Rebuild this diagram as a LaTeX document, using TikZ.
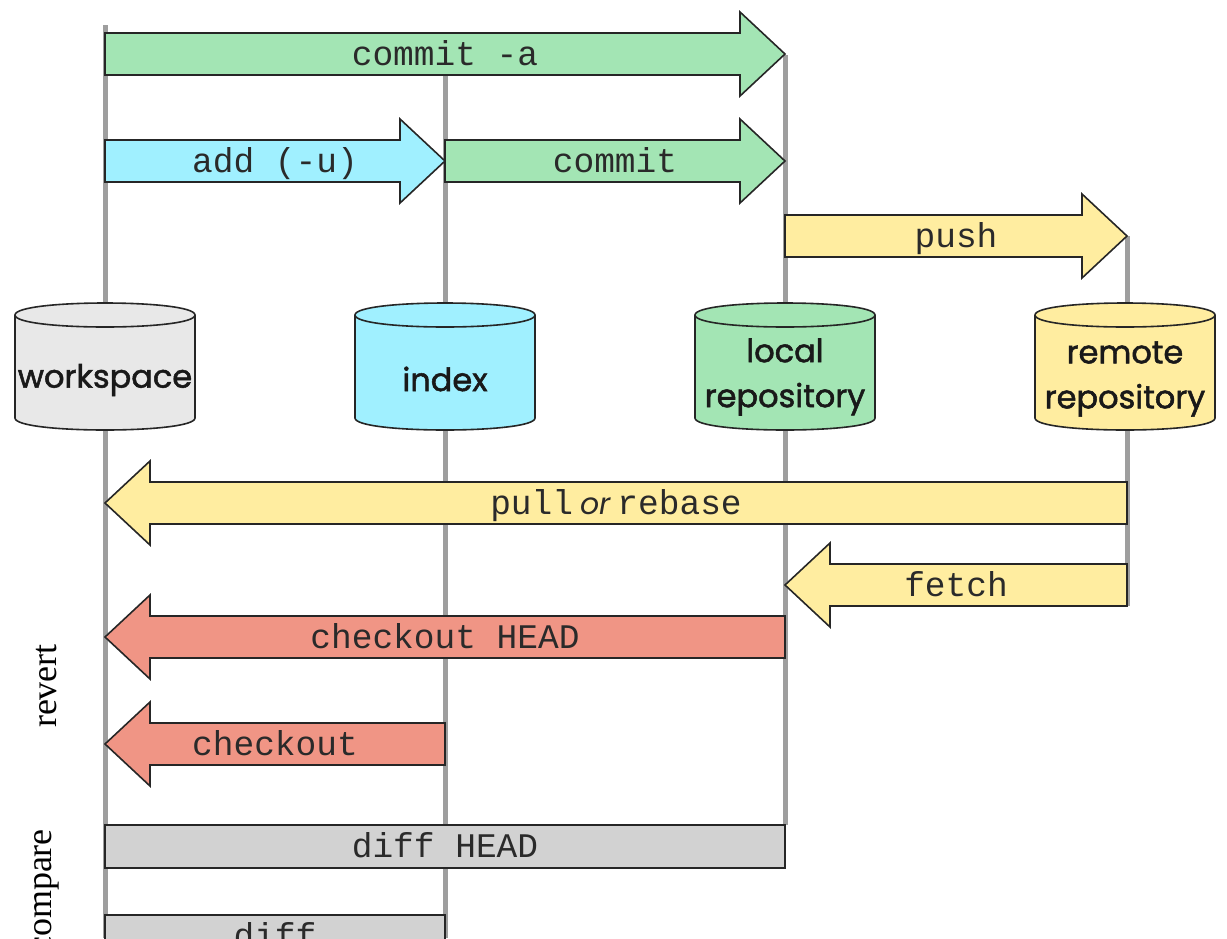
\documentclass[tikz,border=0pt]{standalone}
\usepackage{fontspec}
\newfontfamily\monof{Liberation Mono}
\newfontfamily\cylf{Poppins}
\newfontfamily\cylfb{Poppins}[FakeBold=1.6]
\newfontfamily\serf{Liberation Serif}
\definecolor{cgreen}{HTML}{A3E5B4}
\definecolor{cblue}{HTML}{A0F0FF}
\definecolor{cyellow}{HTML}{FFEDA0}
\definecolor{cred}{HTML}{F09585}
\definecolor{cgrey}{HTML}{D2D2D2}
\definecolor{cws}{HTML}{E8E8E8}
\definecolor{vline}{HTML}{9E9E9E}
\definecolor{txt}{HTML}{2A2A2A}
\tikzset{
  blk/.style={draw=black!85, line width=1.6pt, line join=miter},
  lane/.style={draw=vline, line width=5pt},
  lbl/.style={font=\monof\fontsize{34.5}{40}\selectfont, text=txt, inner sep=0pt, anchor=base},
  cyl/.style={font=\cylfb\fontsize{32}{45}\selectfont, text=black!90, align=center, inner sep=0pt},
  side/.style={font=\serf\fontsize{36}{40}\selectfont, text=black, rotate=90, inner sep=0pt},
}
% right-pointing block arrow: from, to, y, colour, name, label
\newcommand\rblock[6]{%
  \draw[blk, fill=#4] (#1,#3-21) -- (#2-45,#3-21) -- (#2-45,#3-42) -- (#2,#3)
    -- (#2-45,#3+42) -- (#2-45,#3+21) -- (#1,#3+21) -- cycle;
  \node[lbl] (#5) at ({(#1+#2)/2},#3+11) {#6};}
% left-pointing block arrow: from (right end), to (tip), y, colour, name, label
\newcommand\lblock[6]{%
  \draw[blk, fill=#4] (#1,#3-21) -- (#2+45,#3-21) -- (#2+45,#3-42) -- (#2,#3)
    -- (#2+45,#3+42) -- (#2+45,#3+21) -- (#1,#3+21) -- cycle;
  \node[lbl] (#5) at ({(#1+#2)/2},#3+11) {#6};}
% cylinder: centre x, colour
\newcommand\cylinder[2]{%
  \draw[blk, fill=#2] (#1-90,315) -- (#1-90,418)
     .. controls (#1-90,434) and (#1+90,434) .. (#1+90,418) -- (#1+90,315)
     .. controls (#1+90,299) and (#1-90,299) .. (#1-90,315) -- cycle;
  \draw[blk] (#1-90,315) .. controls (#1-90,331) and (#1+90,331) .. (#1+90,315);}
\begin{document}
\begin{tikzpicture}[x=1pt, y=-1pt]
\useasboundingbox (0,0) rectangle (1227,938);
% lanes
\coordinate (l1a) at (105,25);  \coordinate (l1b) at (105,938);
\coordinate (l2a) at (445,60);  \coordinate (l2b) at (445,938);
\coordinate (l3a) at (785,55);  \coordinate (l3b) at (785,825);
\coordinate (l4a) at (1127,236); \coordinate (l4b) at (1127,606);
\draw[lane] (l1a) -- (l1b);
\draw[lane] (l2a) -- (l2b);
\draw[lane] (l3a) -- (l3b);
\draw[lane] (l4a) -- (l4b);
% arrows
\rblock{105}{785}{54}{cgreen}{commita}{commit -a}
\rblock{105}{445}{161}{cblue}{add}{add (-u)}
\rblock{445}{785}{161}{cgreen}{commit}{commit}
\rblock{785}{1127}{236}{cyellow}{push}{push}
% cylinders
\cylinder{105}{cws}
\cylinder{445}{cblue}
\cylinder{785}{cgreen}
\cylinder{1125}{cyellow}
\node[cyl] (ws) at (105,380) {workspace};
\node[cyl] (idx) at (445,379) {index};
\node[cyl] (loc) at (785,377) {local\\repository};
\node[cyl] (rem) at (1125,379) {remote\\repository};
% backward arrows
\lblock{1127}{105}{503}{cyellow}{pull}{pull\kern7pt{\cylf\itshape\fontsize{30}{40}\selectfont or}\kern7pt rebase}
\lblock{1127}{785}{585}{cyellow}{fetch}{fetch}
\lblock{785}{105}{637}{cred}{cohead}{checkout HEAD}
\lblock{445}{105}{744}{cred}{co}{checkout}
% compare boxes
\draw[blk, fill=cgrey] (105,825) rectangle (785,868);
\node[lbl] (diffhead) at (445,857) {diff HEAD};
\draw[blk, fill=cgrey] (105,915) rectangle (445,958);
\node[lbl] (diff) at (275,947) {diff};
% side labels
\node[side] (revert) at (47,686) {revert};
\node[side] (compare) at (47,891) {compare};
\end{tikzpicture}
\end{document}
